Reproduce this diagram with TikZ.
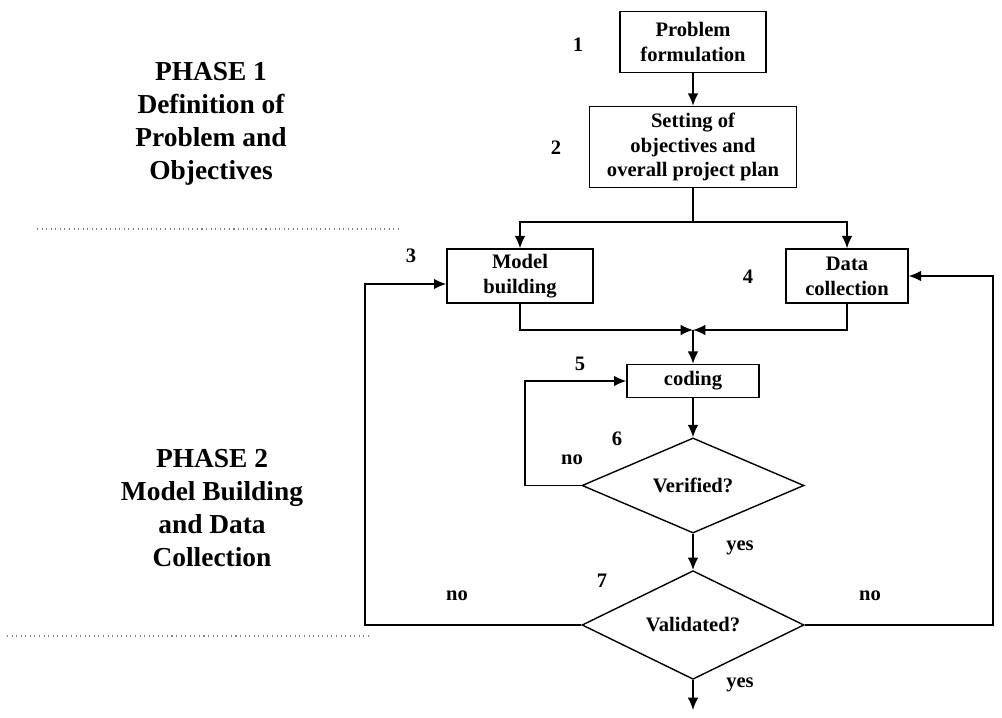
\documentclass[tikz,border=0pt]{standalone}
\usepackage{fontspec}
\setmainfont{Liberation Serif}
\usetikzlibrary{shapes.geometric,arrows.meta}
\begin{document}
\begin{tikzpicture}[line width=0.8pt,>={Latex[length=7pt,width=6pt]},
  every node/.style={font=\bfseries\fontsize{11.7}{14.2}\selectfont},
  box/.style={draw,align=center,inner sep=1pt},
  decision/.style={draw,diamond,minimum width=4.44cm,inner sep=0pt},
  phase/.style={align=center,font=\bfseries\fontsize{15.6}{18.8}\selectfont},
  sep/.style={dotted,gray,line width=0.6pt}]
  \useasboundingbox (0,0) rectangle (20.04,-14.36);
  % phases
  \node[phase] (ph1) at (4.22,-2.48) {PHASE 1\\Definition of\\Problem and\\Objectives};
  \node[phase] (ph2) at (4.24,-10.16) {PHASE 2\\Model Building\\and Data\\Collection};
  \draw[sep] (0.74,-4.58) -- (8.04,-4.58);
  \draw[sep] (0.14,-12.72) -- (7.44,-12.72);
  % steps
  \node[box,minimum width=2.92cm,minimum height=1.22cm] (prob) at (13.86,-0.84) {Problem\\formulation};
  \node[box,minimum width=4.14cm,minimum height=1.62cm] (obj) at (13.86,-2.94) {Setting of\\objectives and\\overall project plan};
  \node[box,minimum width=2.92cm,minimum height=1.08cm] (model) at (10.4,-5.52) {Model\\building};
  \node[box,minimum width=2.44cm,minimum height=1.08cm] (data) at (16.94,-5.52) {Data\\collection};
  \node[box,minimum width=2.64cm,minimum height=0.66cm] (code) at (13.86,-7.62) {coding};
  \node[decision,minimum height=1.62cm] (ver) at (13.86,-9.71) {Verified?};
  \node[decision,minimum height=1.96cm] (val) at (13.86,-12.5) {Validated?};
  % step numbers
  \foreach \n/\x/\y in {1/11.56/-0.9, 2/11.12/-2.96, 3/8.22/-5.12, 4/14.96/-5.54, 5/11.6/-7.28, 6/12.34/-8.78, 7/12.04/-11.62}
    \node (s\n) at (\x,\y) {\n};
  \node (noV) at (11.44,-9.2) {no};
  \node (yesV) at (14.8,-10.96) {yes};
  \node (noL) at (9.14,-11.92) {no};
  \node (noR) at (17.4,-11.92) {no};
  \node (yesA) at (14.8,-13.7) {yes};
  % connectors
  \coordinate (fork) at (13.86,-4.44);
  \coordinate (join) at (13.86,-6.6);
  \coordinate (vback) at (10.5,-9.71);
  \coordinate (lback) at (7.3,-12.5);
  \coordinate (rback) at (19.86,-12.5);
  \coordinate (done) at (13.86,-14.2);
  \draw[->] (prob) -- (obj);
  \draw (obj) -- (fork);
  \draw[->] (fork) -| (model);
  \draw[->] (fork) -| (data);
  \draw[->] (model) |- (join);
  \draw[->] (data) |- (join);
  \draw[->] (join) -- (code);
  \draw[->] (code) -- (ver);
  \draw[->] (ver.west) -- (vback) |- (code);
  \draw[->] (ver) -- (val);
  \draw[->] (val.west) -- (lback) |- ([yshift=-0.16cm]model.west);
  \draw[->] (val.east) -- (rback) |- (data);
  \draw[->] (val) -- (done);
\end{tikzpicture}
\end{document}
